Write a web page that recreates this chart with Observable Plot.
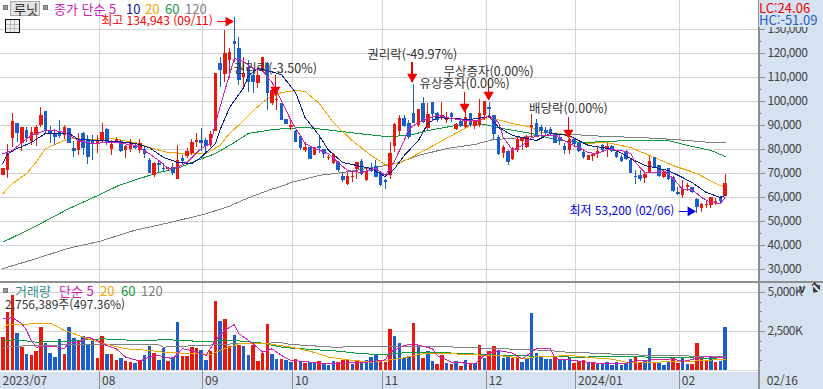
<!DOCTYPE html>
<html lang="ko"><head><meta charset="utf-8">
<script src="https://cdn.jsdelivr.net/npm/d3@7"></script>
<script src="https://cdn.jsdelivr.net/npm/@observablehq/plot@0.6"></script>
<style>
html,body{margin:0;padding:0;background:#fff;overflow:hidden}
#c{position:relative;width:823px;height:389px;overflow:hidden;font-family:"Noto Sans CJK KR",sans-serif;font-size:12px}
#c svg{position:absolute;left:0;background:transparent}
#c svg g[aria-label="y-axis tick label"] text,#c svg g[aria-label="date"] text{letter-spacing:-.5px}
.bg{position:absolute;background:#d6e2f0}
.t{position:absolute;white-space:pre;line-height:15px}
</style></head><body><div id="c">
<div class="bg" style="left:758px;top:0;width:65px;height:389px"></div>
<div class="bg" style="left:0;top:372px;width:823px;height:17px"></div>
</div>
<script>
// daily prices, thousand won
const open=[69.0,71.0,84.4,90.6,82.3,87.7,83.1,85.6,89.8,95.6,87.7,86.5,86.9,85.6,88.5,80.2,79.4,86.5,84.0,83.1,82.3,83.1,88.1,79.8,82.7,83.1,79.4,79.8,81.5,79.4,79.8,75.2,69.0,74.0,71.9,71.5,72.3,67.3,76.0,76.9,78.1,82.7,83.5,83.5,81.5,87.3,115.6,111.0,116.9,124.8,121.9,109.8,113.5,110.6,107.3,112.7,115.6,99.0,100.2,99.0,92.3,89.0,87.3,85.2,79.4,80.6,77.3,81.0,79.8,76.0,74.0,74.4,68.5,65.2,68.1,71.5,74.8,66.9,71.9,72.7,70.2,66.9,69.0,81.0,87.3,92.7,90.6,94.8,89.8,99.0,88.5,99.4,94.8,93.1,91.9,94.8,88.1,91.5,89.0,94.8,89.4,89.8,94.0,97.3,94.0,84.8,78.1,79.0,75.6,79.4,83.1,80.6,89.0,90.6,89.0,87.7,88.1,86.5,84.8,81.0,79.4,84.0,82.3,78.5,75.2,76.9,77.7,81.5,80.2,81.0,78.5,76.5,79.0,75.2,68.5,69.0,67.7,70.2,76.5,73.1,68.1,71.9,68.1,61.9,60.6,64.0,64.0,59.0,55.2,56.5,56.5,57.3,59.8,60.2];
const high=[71.9,81.9,94.8,90.6,89.0,89.0,89.0,89.8,97.3,95.6,89.4,88.1,91.9,89.8,88.5,83.1,86.5,86.9,85.6,85.6,85.6,90.6,88.5,83.5,84.8,83.5,81.5,84.0,82.3,84.0,80.6,76.0,74.4,75.2,74.0,72.3,74.0,81.5,77.3,80.2,84.0,86.5,88.5,84.4,87.3,111.5,118.1,129.4,121.9,134.9,126.5,118.1,116.9,113.5,114.0,118.1,116.0,105.2,105.2,99.0,92.3,91.9,87.7,85.2,82.7,80.6,80.6,84.8,79.8,77.3,78.1,74.8,70.2,70.2,70.2,74.4,75.6,72.3,74.0,75.2,70.2,67.3,82.7,90.6,94.0,94.0,91.9,106.9,96.5,101.5,99.0,99.4,95.2,99.4,95.2,95.2,90.6,91.9,96.0,94.8,91.9,100.6,99.8,99.4,94.0,85.6,81.5,79.4,80.6,84.8,84.8,85.6,94.4,92.3,89.8,89.0,89.0,86.5,85.6,82.3,84.4,84.4,82.7,79.0,77.3,77.7,80.6,81.9,82.3,81.5,79.4,77.3,79.4,76.0,71.0,71.0,69.8,76.9,76.5,73.1,71.0,71.9,68.5,64.0,66.9,65.6,64.0,59.4,57.3,58.5,59.8,59.4,60.2,69.4];
const low=[69.0,67.7,80.6,82.7,79.0,82.7,81.5,81.0,89.0,86.5,82.3,81.5,84.4,84.0,82.3,76.5,77.3,77.3,73.5,75.2,78.1,82.3,81.5,77.3,82.3,78.5,76.0,78.5,79.8,78.1,76.0,69.8,68.1,70.2,70.2,70.6,69.0,67.3,73.1,76.0,77.3,80.6,79.0,78.1,80.6,87.3,105.6,107.7,109.4,116.0,106.5,105.6,103.5,103.1,105.2,111.9,96.0,98.1,96.0,91.9,90.2,87.7,82.7,79.4,78.5,75.6,77.3,78.1,76.0,75.2,73.5,70.2,66.0,64.8,66.0,67.3,69.0,66.5,70.2,68.1,64.4,63.1,67.3,78.5,85.6,89.0,84.0,90.6,89.0,90.6,87.7,91.9,91.0,91.9,90.6,91.0,87.7,89.0,88.5,89.0,88.1,89.0,91.9,92.7,83.5,77.3,76.0,73.1,75.2,78.5,79.4,80.2,84.8,84.8,85.6,85.6,85.2,82.3,81.5,77.7,77.7,80.6,78.5,75.6,75.2,74.8,76.0,78.5,76.5,78.5,76.0,74.4,75.2,69.8,65.2,66.5,65.6,70.2,71.9,68.1,67.7,66.9,61.9,60.6,59.4,62.3,61.5,53.2,53.5,55.2,55.2,56.5,57.3,60.2];
const close=[71.9,78.1,91.5,86.5,89.0,84.4,86.9,89.0,94.0,87.7,86.0,84.8,85.2,89.0,82.3,79.0,83.1,80.2,76.5,82.3,83.5,86.9,82.3,81.9,84.0,79.0,81.0,82.7,80.2,82.3,77.7,69.8,74.0,73.1,71.5,71.9,69.8,75.2,74.8,79.0,82.7,83.5,82.3,81.0,86.0,111.5,112.7,119.8,120.2,123.5,108.5,111.5,107.7,107.7,110.6,118.1,103.1,104.4,100.6,91.9,90.2,89.8,82.7,80.2,80.6,75.6,80.6,80.2,77.7,76.5,77.7,71.0,66.9,68.5,68.5,74.4,69.4,70.6,70.6,68.1,64.8,66.0,78.1,90.2,92.7,89.4,84.8,90.6,96.5,91.0,94.4,94.4,91.9,94.0,93.1,93.1,90.2,89.4,93.1,89.8,91.5,94.8,99.8,96.5,86.0,77.7,80.6,74.4,80.2,84.0,84.4,84.8,89.8,84.8,87.3,86.5,86.0,82.3,83.5,79.4,84.0,81.9,79.0,76.5,77.3,77.7,79.0,79.4,81.0,79.0,76.5,74.8,75.6,69.8,68.1,67.3,69.4,74.8,72.3,68.5,70.2,67.3,62.3,61.0,63.1,64.8,61.9,55.6,56.9,56.9,59.8,58.1,58.1,65.6];
const volume=[2140,3724,4815,2375,1477,1049,963,1220,2761,1733,1091,835,1990,1027,2761,2054,1862,2183,1669,1990,770,2183,1027,1027,642,770,578,514,449,642,963,1541,1091,642,1412,578,835,3082,899,899,1477,1412,1284,642,1220,4430,3146,3274,1541,2247,1605,1541,963,1605,578,1113,2953,1027,706,706,642,514,706,599,449,535,535,578,407,321,578,514,642,642,385,642,514,642,835,963,642,514,2632,2183,1733,770,899,3017,1605,770,1220,578,385,963,449,385,578,257,642,385,449,1605,770,1220,1541,1284,770,899,770,835,514,706,3659,1091,835,685,706,835,642,706,835,449,578,621,449,471,471,449,492,321,514,321,471,706,856,449,556,1412,535,514,321,514,770,449,770,385,385,1733,899,578,899,514,578,2756];
const volumeDir="rrrbrbrrrbbbbrbbrbbbrrbrrbrrbrbbrbbrbbrrrrbbrrbrrbrbbrr rrbbrbbrbrbbrbbbrrrbrbbbbrrrbbbbrbrbbrrbrbrbrbrbrrbbbrrbbbbbbbrbbbrrrbrbbbbbbbbrrbbrbbbrrbbrrrrb r".replace(/ /g,"");
const ma5=[[0,78.1],[2,79.4],[4,82.7],[6,85.6],[9,87.7],[11,87.7],[13,86.9],[16,83.5],[19,82.3],[22,82.7],[24,82.7],[28,81.5],[31,78.1],[33,75.2],[35,71.9],[37,72.3],[39,74.4],[42,80.2],[44,82.3],[45,90.6],[47,104.4],[49,117.7],[51,116.4],[53,113.5],[55,112.7],[57,107.7],[59,100.2],[61,91.9],[64,82.3],[66,80.2],[69,78.1],[71,74.4],[73,71.0],[76,70.2],[79,71.9],[81,69.0],[82,71.9],[83,75.2],[85,83.5],[86,88.5],[88,91.0],[90,92.7],[92,94.0],[95,92.7],[98,91.9],[101,91.9],[103,94.0],[105,91.0],[106,84.8],[108,79.4],[110,81.5],[112,84.8],[114,85.6],[117,85.6],[120,82.3],[122,80.6],[124,78.5],[126,78.1],[128,79.8],[131,79.4],[133,78.1],[134,74.4],[136,70.2],[138,70.2],[140,71.0],[142,67.7],[144,63.1],[146,63.1],[148,59.8],[150,57.7],[152,57.3],[153,59.8]];
const ma10=[[0,74.0],[1,78.1],[3,80.2],[6,82.7],[9,86.5],[11,86.5],[14,86.5],[16,84.0],[21,83.5],[24,83.1],[28,82.3],[31,80.6],[34,76.5],[37,74.4],[40,74.0],[42,76.5],[45,82.3],[46,88.1],[48,97.3],[51,105.6],[52,110.6],[54,113.5],[56,112.7],[59,111.0],[62,103.5],[64,93.1],[67,85.6],[69,79.4],[72,74.4],[75,73.1],[78,71.9],[81,68.5],[83,71.9],[85,77.3],[88,83.5],[90,90.6],[92,93.1],[95,92.7],[99,92.3],[103,93.5],[105,89.0],[108,85.6],[110,84.8],[113,83.5],[116,86.5],[120,85.6],[122,83.5],[124,81.5],[127,80.6],[130,79.4],[133,76.0],[136,73.1],[138,72.3],[141,71.0],[144,68.1],[146,66.0],[149,61.9],[152,59.8],[153,60.6]];
const ma20=[[0,61.5],[2,65.6],[5,69.8],[7,74.4],[9,80.2],[12,82.7],[14,84.4],[18,84.0],[23,84.4],[28,82.7],[31,80.6],[35,78.5],[40,78.1],[43,78.1],[46,81.5],[48,86.5],[51,91.9],[53,96.0],[56,101.0],[59,103.5],[62,104.4],[64,104.0],[67,99.0],[70,91.0],[74,83.5],[78,77.3],[81,73.5],[84,74.0],[88,78.1],[92,82.3],[97,87.7],[101,91.9],[103,93.1],[108,90.6],[112,89.0],[114,86.9],[118,86.5],[121,84.4],[123,82.3],[128,82.7],[133,80.6],[138,76.5],[142,73.1],[147,69.8],[151,65.6],[153,64.0]];
const ma60=[[0,41.2],[6.5,47.4],[13.6,54.8],[20.5,61.0],[24.5,64.8],[31,69.0],[33,70.2],[37,71.9],[40,74.4],[45,78.1],[49,82.7],[52,86.5],[56,87.7],[57,88.1],[64,89.0],[70,87.7],[75,86.5],[81,85.2],[86,85.6],[90,87.7],[96,89.8],[102,90.2],[107,88.1],[112,86.5],[116,84.4],[118,83.5],[123,82.7],[132,83.5],[141,83.5],[145,81.5],[150,79.4],[153,76.9]];
const ma120=[[0,30.2],[6.5,34.0],[13.6,38.5],[20.5,41.5],[27.7,46.0],[34.8,49.1],[42.4,52.7],[47.5,55.8],[51.8,59.5],[56.7,63.1],[59.5,64.8],[61,66.0],[67,69.0],[72,70.2],[81,73.1],[84,74.4],[88,77.3],[94,80.2],[100,81.9],[104,84.0],[108,84.4],[113,85.6],[121,86.0],[128,85.2],[135,84.8],[142,84.0],[150,82.7],[153,82.7]];
const volMa5=[[0,3317],[2,3381],[4,2996],[5,2568],[6,1926],[7,1498],[9,1541],[11,1541],[13,1391],[14,1819],[16,1819],[18,2140],[20,1926],[21,1712],[24,1391],[26,856],[29,599],[31,856],[33,963],[36,749],[38,1391],[40,1284],[43,963],[45,1926],[47,2568],[49,2953],[50,2354],[53,1712],[55,1177],[57,1391],[59,963],[61,642],[64,578],[68,428],[72,471],[77,535],[81,685],[82,1177],[85,1605],[87,1712],[91,1391],[92,963],[95,535],[100,428],[102,963],[105,1284],[108,1113],[110,749],[113,1391],[116,1391],[117,749],[120,685],[122,599],[125,492],[128,428],[132,471],[135,642],[138,685],[142,749],[144,578],[149,899],[152,813],[153,813]];
const volMa20=[[0,2675],[1,2932],[7,2996],[10,3039],[13,2568],[16,2247],[19,1926],[23,1605],[26,1391],[31,1284],[35,1134],[39,1113],[44,1027],[46,1284],[50,1712],[56,1712],[61,1498],[65,1241],[69,856],[73,685],[78,535],[81,642],[85,813],[89,1070],[93,1113],[99,1006],[105,963],[111,749],[113,899],[116,899],[120,963],[125,813],[129,728],[132,535],[138,535],[145,578],[152,706],[153,706]];
const volMa60=[[0,1926],[3,1969],[7,1819],[14,1883],[21,2033],[28,1926],[35,1969],[42,1862],[49,1926],[55,1755],[59,1498],[61,1434],[71,1241],[76,1070],[81,1027],[85,1134],[92,1156],[99,1070],[106,963],[116,899],[121,856],[128,877],[142,856],[152,728],[153,728]];
const volMa120=[[0,1498],[3,1562],[14,1648],[33,1648],[34,1498],[45,1648],[49,1712],[59,1776],[61,1669],[70,1498],[81,1541],[90,1562],[96,1498],[106,1391],[112,1327],[116,1284],[118,1198],[125,1113],[131,1027],[138,963],[152,899],[153,899]];
const priceTicks=[30,40,50,60,70,80,90,100,110,120,130];
const priceMinor=[35,45,55,65,75,85,95,105,115,125,135];
const volTicks=[2500,5000];
const volMinor=[625,1250,1875,3125,3750,4375];
const monthAt=[20.55,42.37,61.44,80.5,102.5,121.4,143.4];
const monthLabel=["08","09","10","11","12","2024/01","02"];
const notes=[
 {i:57.7,top:110.6,tip:102.3,label:113.5,text:"권리락(-3.50%)"},
 {i:86.7,top:116.0,tip:107.7,label:119.0,text:"권리락(-49.97%)"},
 {i:97.8,top:103.5,tip:95.2,label:106.9,text:"유상증자(0.00%)"},
 {i:102.9,top:109.0,tip:100.2,label:111.9,text:"무상증자(0.00%)"},
 {i:119.8,top:93.1,tip:84.4,label:96.5,text:"배당락(0.00%)"}];
const extremes=[
 {from:45.5,to:48.6,p:133.1,text:"최고 134,943 (09/11)",color:"#f00000"},
 {from:143.3,to:146.5,p:54.0,text:"최저 53,200 (02/06)",color:"#0000e0"}];
const RED="#e8180c",BLUE="#1a5ecb",C5="#d020b8",C10="#0a1e90",C20="#f0a500",C60="#109a40",C120="#808080",GRID="#d4d4d4",AX="#909090",TXT="#444";
const FONT='"Noto Sans CJK KR",sans-serif';
const candles=d3.range(154).map(i=>({i,o:open[i],h:high[i],l:low[i],c:close[i],up:close[i]>=open[i]}));
const bars=d3.range(154).map(i=>({i,v:volume[i],up:volumeDir[i]==="r"}));
const xOpt={domain:[-0.53,160.07],range:[0,758]};
const cr={shapeRendering:"crispEdges"};
const ln=(arr,s)=>Plot.line(arr,{x:d=>d[0],y:d=>d[1],stroke:s,strokeWidth:1,...cr});
const top_=Plot.plot({width:823,height:281,marginLeft:0,marginRight:65,marginTop:0,marginBottom:0,
 style:{background:"transparent",fontFamily:FONT,fontSize:"12px",overflow:"visible"},
 x:{...xOpt,axis:null},y:{domain:[24.792,141.875],range:[281,0],axis:null},
 marks:[
  Plot.ruleY(priceTicks,{stroke:GRID,x1:-0.53,x2:160.07,...cr}),
  Plot.ruleX(monthAt,{stroke:GRID,y1:24.792,y2:141.875,...cr}),
  Plot.ruleX([160.07],{stroke:AX,strokeWidth:2,y1:24.792,y2:141.875,...cr}),
  Plot.axisY(priceMinor,{anchor:"right",tickSize:3,tickFormat:()=>"",stroke:AX,...cr}),
  Plot.axisY(priceTicks,{anchor:"right",tickSize:6,tickPadding:3,tickFormat:d=>d3.format(",")(d*1000),stroke:AX,fill:TXT,...cr,fontSize:12}),
  ln(ma120,C120),ln(ma60,C60),ln(ma20,C20),
  Plot.ruleX(candles,{x:"i",y1:"l",y2:"h",stroke:d=>d.up?RED:BLUE,strokeWidth:1,...cr}),
  Plot.ruleX(candles,{x:"i",y1:"o",y2:"c",stroke:d=>d.up?RED:BLUE,strokeWidth:3.5,...cr}),
  ln(ma10,C10),ln(ma5,C5),
  Plot.ruleX(notes,{x:"i",y1:"top",y2:"tip",stroke:"#f00000",strokeWidth:1.5,...cr}),
  Plot.dot(notes,{x:"i",y:"tip",dy:-5.8,symbol:"triangle",r:3.8,fill:"#f00000",rotate:180}),
  Plot.text(notes,{x:"i",y:"label",text:"text",fill:"#333",fontSize:12.5}),
  Plot.ruleY(extremes,{y:"p",x1:"from",x2:"to",stroke:"color",...cr}),
  Plot.dot(extremes,{x:"to",y:"p",dx:-4,symbol:"triangle",r:3.6,fill:"color",rotate:90}),
  Plot.text(extremes,{x:"from",y:"p",dx:-5,text:"text",textAnchor:"end",fill:"color",fontSize:12})
 ]});
top_.style.top="0px";
const bot=Plot.plot({width:823,height:108,marginLeft:0,marginRight:65,marginTop:0,marginBottom:0,
 style:{background:"transparent",fontFamily:FONT,fontSize:"12px",overflow:"visible"},
 x:{...xOpt,axis:null},y:{domain:[-1218,5705],range:[108,0],axis:null},
 marks:[
  Plot.ruleY(volTicks,{stroke:GRID,x1:-0.53,x2:160.07,...cr}),
  Plot.ruleY([0],{stroke:"#e0e0e0",x1:-0.53,x2:160.07,...cr}),
  Plot.ruleX(monthAt,{stroke:GRID,y1:-70,y2:5705,...cr}),
  Plot.ruleX(monthAt,{stroke:AX,y1:-1218,y2:-70,...cr}),
  Plot.ruleX([160.07],{stroke:AX,strokeWidth:2,y1:-1218,y2:5705,...cr}),
  Plot.ruleY([5705],{dy:0.5,stroke:AX,strokeWidth:2,x1:-0.53,x2:160.07,...cr}),
  Plot.ruleY([5705],{x1:160.07,x2:173.8,stroke:AX,strokeWidth:2,...cr}),
  Plot.axisY(volMinor,{anchor:"right",tickSize:3,tickFormat:()=>"",stroke:AX,...cr}),
  Plot.axisY(volTicks,{anchor:"right",tickSize:6,tickPadding:3,tickFormat:d=>d3.format(",")(d)+"K",stroke:AX,fill:TXT,...cr,fontSize:12}),
  Plot.ruleX(bars,{x:"i",y1:0,y2:"v",stroke:d=>d.up?RED:BLUE,strokeWidth:3.5,...cr}),
  ln(volMa120,C120),ln(volMa60,C60),ln(volMa20,C20),ln(volMa5,C5),
  Plot.text(monthAt,{x:d=>d,y:()=>-705,text:(d,i)=>monthLabel[i],textAnchor:"start",dx:2,fill:TXT,fontSize:12,ariaLabel:"date"}),
  Plot.text(["2023/07"],{x:()=>-0.53,y:()=>-705,text:d=>d,textAnchor:"start",dx:2,fill:TXT,fontSize:12,ariaLabel:"date"}),
  Plot.text(["02/16"],{x:()=>161.8,y:()=>-705,text:d=>d,textAnchor:"start",fill:TXT,fontSize:12,ariaLabel:"date"})
 ]});
bot.style.top="281px";
const c=document.getElementById("c");
c.append(top_,bot);
const span=(txt,x,y,col,extra="")=>{const s=document.createElement("div");s.className="t";s.textContent=txt;s.style.cssText=`left:${x}px;top:${y}px;color:${col};${extra}`;c.append(s);return s};
const box=(x,y,w,h,css)=>{const s=document.createElement("div");s.style.cssText=`position:absolute;left:${x}px;top:${y}px;width:${w}px;height:${h}px;box-sizing:border-box;${css}`;c.append(s);return s};
// header
box(3,5,5,5,"background:#999;border:1px solid #777");
box(10,1,30,15,"background:#e4e4e4;border:1px solid #aaa");
span("루닛",14,1,"#333","font-size:13px");
box(43,5,5,5,"background:#999;border:1px solid #777");
span("종가 단순 5",54,1,C5,"font-size:13px");
span("10",126,1,C10,"font-size:13px");
span("20",145,1,C20,"font-size:13px");
span("60",165,1,C60,"font-size:13px");
span("120",185,1,C120,"font-size:13px");
box(5,19,15,14,"background:linear-gradient(#bbb,#bbb) 0 4px/100% 1px no-repeat,linear-gradient(#bbb,#bbb) 0 8px/100% 1px no-repeat,linear-gradient(90deg,#bbb,#bbb) 4px 0/1px 100% no-repeat,linear-gradient(90deg,#bbb,#bbb) 8px 0/1px 100% no-repeat,#eee;border:1px solid #111");
box(759,0,64,27,"background:#d6e2f0");
span("LC:24.06",759,0,"#f00000","font-size:13px");
span("HC:-51.09",759,12,"#1a5ecb","font-size:13px");
// volume header
box(3,288,5,5,"background:#999;border:1px solid #777");
span("거래량",15,283,"#2f8f8f","font-size:13px");
span("단순 5",59,283,C5,"font-size:13px");
span("20",100,283,C20,"font-size:13px");
span("60",121,283,C60,"font-size:13px");
span("120",141,283,C120,"font-size:13px");
span("2,756,389주(497.36%)",5,296,"#333","font-size:12px");
box(813,285,7,7,"background:linear-gradient(45deg,#444 42%,#ddd 42%,#ddd 58%,#444 58%)");
</script></body></html>
